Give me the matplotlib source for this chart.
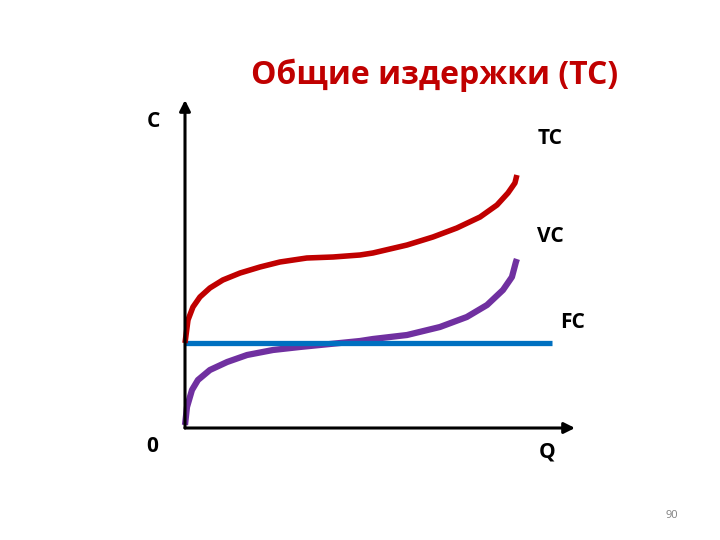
import matplotlib.pyplot as plt

plt.rcParams['font.family'] = ['Open Sans', 'DejaVu Sans']

# кривые издержек (Q, C)
fc_q = [0.0, 11.05]
fc_c = [8.5, 8.5]

vc_q = [0.0, 0.06, 0.21, 0.39, 0.75, 1.27, 1.87, 2.65, 3.46, 4.37, 5.27, 5.66,
        6.69, 7.68, 8.49, 9.10, 9.58, 9.85, 9.97, 10.0]
vc_c = [0.3, 2.1, 3.8, 4.8, 5.8, 6.6, 7.3, 7.8, 8.1, 8.4, 8.7, 8.9,
        9.3, 10.1, 11.1, 12.3, 13.8, 15.1, 16.6, 16.9]

tc_q = [0.0, 0.09, 0.24, 0.45, 0.75, 1.14, 1.66, 2.26, 2.86, 3.67, 4.46, 5.27,
        5.66, 6.69, 7.47, 8.19, 8.89, 9.40, 9.73, 9.94, 10.0]
tc_c = [8.5, 10.8, 12.1, 13.1, 14.0, 14.8, 15.5, 16.1, 16.6, 17.0, 17.1, 17.3,
        17.5, 18.3, 19.1, 20.0, 21.1, 22.3, 23.5, 24.5, 25.3]

fig = plt.figure(figsize=(7.2, 5.4), dpi=100)
ax = fig.add_axes([185 / 720, 112 / 540, 390 / 720, 328 / 540])
ax.set_xlim(0, 11.75)
ax.set_ylim(0, 32.8)
ax.axis('off')

# оси со стрелками
ax.annotate('', xy=(0, 1), xytext=(0, 0), xycoords='axes fraction',
            arrowprops=dict(arrowstyle='-|>', lw=2.2, color='black', mutation_scale=16, shrinkA=0, shrinkB=0))
ax.annotate('', xy=(1, 0), xytext=(0, 0), xycoords='axes fraction',
            arrowprops=dict(arrowstyle='-|>', lw=2.2, color='black', mutation_scale=16, shrinkA=0, shrinkB=0))

ax.plot(vc_q, vc_c, color='#7030A0', lw=4.5, solid_capstyle='butt', solid_joinstyle='round', clip_on=False)
ax.plot(fc_q, fc_c, color='#0070C0', lw=3.8, solid_capstyle='butt', clip_on=False)
ax.plot(tc_q, tc_c, color='#C00000', lw=4.0, solid_capstyle='butt', solid_joinstyle='round', clip_on=False)

# подписи
fig.text(435 / 720, 1 - 75 / 540, 'Общие издержки (TC)', color='#C00000', fontsize=23,
         fontweight='bold', ha='center', va='center')
lbl = dict(fontsize=15, fontweight='bold', ha='center', va='center', color='black')
fig.text(153 / 720, 1 - 122 / 540, 'C', **lbl)
fig.text(550 / 720, 1 - 138 / 540, 'TC', **lbl)
fig.text(550 / 720, 1 - 236 / 540, 'VC', **lbl)
fig.text(573 / 720, 1 - 322 / 540, 'FC', **lbl)
fig.text(152 / 720, 1 - 446 / 540, '0', **lbl)
fig.text(547 / 720, 1 - 452 / 540, 'Q', **lbl)
fig.text(672 / 720, 1 - 515 / 540, '90', fontsize=8, color='#808080', ha='center', va='center')

fig.savefig('out.png', dpi=100)
